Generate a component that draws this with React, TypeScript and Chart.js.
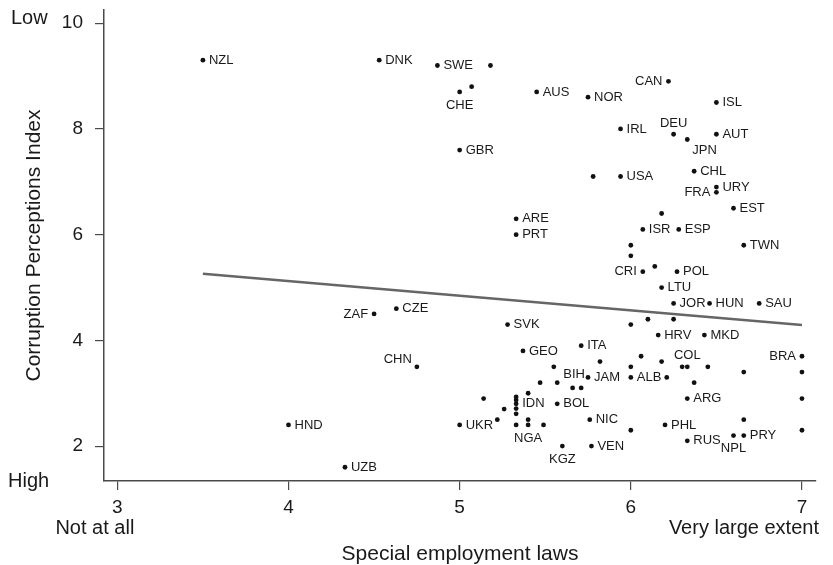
import React, { useEffect, useRef } from "react";
import { Chart, registerables } from "chart.js";
Chart.register(...registerables);

// ---- Data ----
const countries = [
  "NZL", "DNK", "SWE", "", "", "CHE", "GBR", "AUS", "NOR", "CAN",
  "ISL", "IRL", "DEU", "JPN", "AUT", "", "USA", "CHL", "URY", "FRA",
  "EST", "ARE", "PRT", "", "ISR", "ESP", "TWN", "", "", "CRI",
  "", "POL", "LTU", "JOR", "HUN", "SAU", "SVK", "", "", "",
  "HRV", "MKD", "GEO", "ITA", "BRA", "", "", "", "", "COL",
  "", "", "", "", "", "JAM", "BIH", "", "", "",
  "ALB", "", "", "ARG", "", "", "", "", "IDN", "",
  "", "", "BOL", "", "", "UKR", "", "", "NGA", "",
  "NIC", "", "KGZ", "VEN", "PHL", "RUS", "NPL", "PRY", "", "",
  "ZAF", "CZE", "CHN", "HND", "UZB",
];
const employmentLaws = [
  3.5, 4.53, 4.87, 5.18, 5.07, 5.0, 5.0, 5.45, 5.75, 6.22,
  6.5, 5.94, 6.25, 6.33, 6.5, 5.78, 5.94, 6.37, 6.5, 6.5,
  6.6, 5.33, 5.33, 6.18, 6.07, 6.28, 6.66, 6.0, 6.0, 6.07,
  6.14, 6.27, 6.18, 6.25, 6.46, 6.75, 5.28, 6.0, 6.1, 6.25,
  6.16, 6.43, 5.37, 5.71, 7.0, 5.82, 6.06, 6.18, 6.3, 6.33,
  6.45, 6.66, 7.0, 5.55, 6.0, 5.75, 5.57, 5.47, 5.66, 5.71,
  6.0, 6.21, 6.37, 6.33, 7.0, 5.14, 5.33, 5.33, 5.33, 5.33,
  5.33, 5.4, 5.57, 5.26, 5.22, 5.0, 5.33, 5.4, 5.4, 5.49,
  5.76, 6.0, 5.6, 5.77, 6.2, 6.33, 6.6, 6.66, 6.66, 7.0,
  4.5, 4.63, 4.75, 4.0, 4.33,
];
const corruptionIndex = [
  9.3, 9.3, 9.2, 9.2, 8.8, 8.7, 7.6, 8.7, 8.6, 8.9,
  8.5, 8.0, 7.9, 7.8, 7.9, 7.1, 7.1, 7.2, 6.9, 6.8,
  6.5, 6.3, 6.0, 6.4, 6.1, 6.1, 5.8, 5.8, 5.6, 5.3,
  5.4, 5.3, 5.0, 4.7, 4.7, 4.7, 4.3, 4.3, 4.4, 4.4,
  4.1, 4.1, 3.8, 3.9, 3.7, 3.6, 3.7, 3.6, 3.5, 3.5,
  3.5, 3.4, 3.4, 3.5, 3.5, 3.3, 3.2, 3.2, 3.1, 3.1,
  3.3, 3.3, 3.2, 2.9, 2.9, 2.9, 2.93, 2.87, 2.8, 2.71,
  2.61, 3.0, 2.8, 2.7, 2.5, 2.4, 2.4, 2.5, 2.4, 2.4,
  2.5, 2.3, 2.0, 2.0, 2.4, 2.1, 2.2, 2.2, 2.5, 2.3,
  4.5, 4.6, 3.5, 2.4, 1.6,
];
const trendX = [3.5, 7];
const trendY = [5.26, 4.29];
const xTickValues = [3, 4, 5, 6, 7];
const yTickValues = [2, 4, 6, 8, 10];
const xEndLabels = ["Not at all", "Very large extent"];
const yEndLabels = ["Low", "High"];
const xTitle = "Special employment laws";
const yTitle = "Corruption Perceptions Index";

// ---- Styling (label placement around each marker) ----
const LABEL_POS: Record<string, string> = {
  CHE: "b", CAN: "l", DEU: "t", JPN: "br", FRA: "l", CRI: "l", COL: "t",
  BRA: "l", BIH: "tr", NGA: "b", KGZ: "b", NPL: "b", ZAF: "l", CHN: "tl",
};
const FONT = '"Liberation Sans", Arial, Helvetica, sans-serif';
const TEXT = "#1a1a1a";
const AXIS = "#4a4a4a";

export default function App() {
  const ref = useRef<HTMLCanvasElement | null>(null);
  useEffect(() => {
    if (!ref.current) return;
    const points = employmentLaws.map((x, i) => ({ x, y: corruptionIndex[i] }));
    const trend = trendX.map((x, i) => ({ x, y: trendY[i] }));

    const labelPlugin = {
      id: "countryLabels",
      afterDatasetsDraw(chart: any) {
        const ctx = chart.ctx;
        const meta = chart.getDatasetMeta(0);
        ctx.save();
        ctx.font = `13px ${FONT}`;
        ctx.fillStyle = TEXT;
        meta.data.forEach((el: any, i: number) => {
          const name = countries[i];
          if (!name) return;
          const pos = LABEL_POS[name] || "r";
          let x = el.x, y = el.y;
          ctx.textBaseline = "middle";
          if (pos === "r") { ctx.textAlign = "left"; x += 6; }
          else if (pos === "l") { ctx.textAlign = "right"; x -= 6; }
          else if (pos === "t") { ctx.textAlign = "center"; y -= 11; }
          else if (pos === "b") { ctx.textAlign = "center"; y += 13; }
          else if (pos === "br") { ctx.textAlign = "left"; x += 5; y += 11; }
          else if (pos === "tr") { ctx.textAlign = "left"; x += 6; y -= 8; }
          else if (pos === "tl") { ctx.textAlign = "right"; x -= 5; y -= 7; }
          ctx.fillText(name, x, y);
        });
        ctx.restore();
      },
      afterDraw(chart: any) {
        const ctx = chart.ctx;
        const xs = chart.scales.x;
        ctx.save();
        ctx.fillStyle = TEXT;
        ctx.textBaseline = "alphabetic";
        ctx.font = `20px ${FONT}`;
        ctx.textAlign = "left";
        ctx.fillText(yEndLabels[0], 11, 23.5);
        ctx.fillText(yEndLabels[1], 8, 487);
        ctx.textAlign = "right";
        ctx.fillText(xEndLabels[0], xs.getPixelForValue(3) + 17, 534);
        ctx.fillText(xEndLabels[1], xs.getPixelForValue(7) + 17, 534);
        ctx.font = `21px ${FONT}`;
        ctx.textAlign = "center";
        ctx.fillText(xTitle, (chart.chartArea.left + chart.chartArea.right) / 2, 560);
        ctx.translate(40, (chart.chartArea.top + chart.chartArea.bottom) / 2);
        ctx.rotate(-Math.PI / 2);
        ctx.fillText(yTitle, 0, 0);
        ctx.restore();
      },
    };

    const chart = new Chart(ref.current, {
      type: "scatter",
      data: {
        datasets: [
          {
            data: points,
            pointRadius: 2.4,
            pointBackgroundColor: "#111",
            pointBorderWidth: 0,
            order: 1,
          } as any,
          {
            data: trend,
            showLine: true,
            pointRadius: 0,
            borderColor: "#666",
            borderWidth: 2.6,
            order: 2,
          } as any,
        ],
      },
      options: {
        animation: false,
        responsive: false,
        events: [],
        layout: { padding: { top: 10, right: 17, left: 0, bottom: 0 } },
        plugins: { legend: { display: false }, tooltip: { enabled: false } },
        scales: {
          x: {
            type: "linear",
            min: 2.922,
            max: 7.082,
            border: { color: AXIS, width: 1.5 },
            grid: { drawOnChartArea: false, drawTicks: true, tickLength: 9, color: AXIS, lineWidth: 1.2 },
            ticks: { font: { size: 19, family: FONT }, color: TEXT, padding: 6, maxRotation: 0 },
            afterBuildTicks: (s: any) => { s.ticks = xTickValues.map((v) => ({ value: v })); },
            afterFit: (s: any) => { s.height = 84; s.paddingLeft = 0; s.paddingRight = 0; },
          },
          y: {
            type: "linear",
            min: 1.34,
            max: 10.25,
            border: { color: AXIS, width: 1.5 },
            grid: { drawOnChartArea: false, drawTicks: true, tickLength: 9, color: AXIS, lineWidth: 1.2 },
            ticks: { font: { size: 19, family: FONT }, color: TEXT, padding: 12 },
            afterBuildTicks: (s: any) => { s.ticks = yTickValues.map((v) => ({ value: v })); },
            afterFit: (s: any) => { s.width = 104; s.paddingTop = 0; s.paddingBottom = 0; },
          },
        },
      },
      plugins: [labelPlugin],
    });
    return () => chart.destroy();
  }, []);

  return (
    <div style={{ position: "absolute", left: 0, top: 0, width: 833, height: 565, background: "#fff" }}>
      <canvas ref={ref} width={833} height={565} />
    </div>
  );
}
